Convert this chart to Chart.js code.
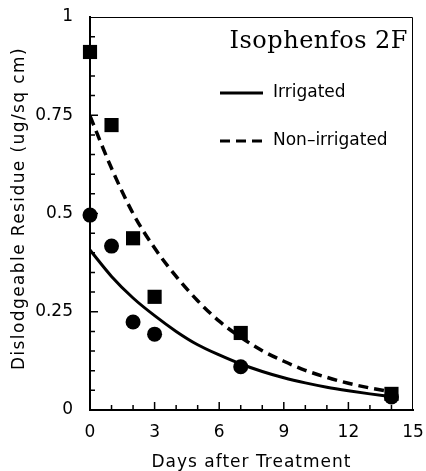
<!DOCTYPE html>
<html>
<head>
<meta charset="utf-8">
<title>Isophenfos 2F</title>
<script src="https://cdn.jsdelivr.net/npm/chart.js@4/dist/chart.umd.min.js"></script>
<style>
  html, body { margin: 0; padding: 0; background: #fff; }
  canvas { display: block; }
</style>
</head>
<body>
<canvas id="residue" width="426" height="471"></canvas>
<script>
// measured residues
const days = [0, 1, 2, 3, 7, 14];
const irrigated = [0.496, 0.417, 0.224, 0.193, 0.11, 0.033];
const nonIrrigated = [0.911, 0.725, 0.437, 0.288, 0.196, 0.041];

// fitted decay curves
const fitDays = [0, 1, 2, 3, 4, 5, 6, 7, 8, 9, 10, 11, 12, 13, 14];
const irrigatedFit = [0.407, 0.340, 0.285, 0.240, 0.200, 0.166, 0.140, 0.117, 0.098, 0.082, 0.069, 0.058, 0.049, 0.041, 0.034];
const nonIrrigatedFit = [0.748, 0.615, 0.500, 0.412, 0.340, 0.278, 0.226, 0.185, 0.151, 0.124, 0.101, 0.083, 0.068, 0.056, 0.046];

const xTicks = [0, 3, 6, 9, 12, 15];
const yTicks = [0, 0.25, 0.5, 0.75, 1];

const chartTitle = 'Isophenfos 2F';
const seriesNames = ['Irrigated', 'Non\u2013irrigated'];
const xTitle = 'Days after Treatment';
const yTitle = 'Dislodgeable Residue (ug/sq cm)';

const FONT = '"DejaVu Sans", sans-serif';

function pairs(xs, ys) {
  return xs.map((x, i) => ({ x: x, y: ys[i] }));
}

// inward ticks, frame, axis titles, title and legend
const decorations = {
  id: 'decorations',
  afterDraw(chart) {
    const { ctx, chartArea: a, scales: { x, y } } = chart;
    ctx.save();
    ctx.strokeStyle = '#000';
    ctx.lineWidth = 1.5;
    ctx.beginPath();
    for (let d = 1; d < 15; d++) {
      const px = x.getPixelForValue(d);
      const len = d % 3 === 0 ? 8 : 5;
      ctx.moveTo(px, a.bottom);
      ctx.lineTo(px, a.bottom - len);
    }
    for (let k = 1; k < 20; k++) {
      const py = y.getPixelForValue(k * 0.05);
      const len = k % 5 === 0 ? 8 : 5;
      ctx.moveTo(a.left, py);
      ctx.lineTo(a.left + len, py);
    }
    ctx.stroke();

    ctx.lineWidth = 1;
    ctx.beginPath();
    ctx.moveTo(a.left, a.top + 0.5);
    ctx.lineTo(a.right - 0.5, a.top + 0.5);
    ctx.lineTo(a.right - 0.5, a.bottom);
    ctx.stroke();

    ctx.fillStyle = '#000';

    // axis titles
    ctx.font = '17px ' + FONT;
    ctx.textAlign = 'center';
    ctx.textBaseline = 'middle';
    ctx.letterSpacing = '1px';
    ctx.fillText(xTitle, (a.left + a.right) / 2, 463);
    ctx.save();
    ctx.translate(20, (a.top + a.bottom) / 2 - 5);
    ctx.rotate(-Math.PI / 2);
    ctx.letterSpacing = '1.4px';
    ctx.fillText(yTitle, 0, 0);
    ctx.restore();

    ctx.font = '24px "DejaVu Serif", serif';
    ctx.letterSpacing = '0.5px';
    ctx.textAlign = 'right';
    ctx.textBaseline = 'alphabetic';
    ctx.fillText(chartTitle, a.right - 5, a.top + 31);
    ctx.letterSpacing = '0px';

    const lx0 = a.right - 193, lx1 = a.right - 150;
    const rows = [a.top + 76, a.top + 124];
    ctx.lineWidth = 3;
    ctx.beginPath();
    ctx.moveTo(lx0, rows[0]);
    ctx.lineTo(lx1, rows[0]);
    ctx.stroke();
    ctx.setLineDash([10, 6]);
    ctx.beginPath();
    ctx.moveTo(lx0, rows[1]);
    ctx.lineTo(lx1, rows[1]);
    ctx.stroke();
    ctx.setLineDash([]);

    ctx.font = '17px ' + FONT;
    ctx.textAlign = 'left';
    ctx.textBaseline = 'middle';
    seriesNames.forEach((name, i) => ctx.fillText(name, lx1 + 10, rows[i]));
    ctx.restore();
  }
};

new Chart(document.getElementById('residue'), {
  type: 'scatter',
  data: {
    datasets: [
      {
        label: seriesNames[0] + ' fit',
        data: pairs(fitDays, irrigatedFit),
        showLine: true,
        cubicInterpolationMode: 'monotone',
        borderColor: '#000',
        borderWidth: 3,
        pointRadius: 0
      },
      {
        label: seriesNames[1] + ' fit',
        data: pairs(fitDays, nonIrrigatedFit),
        showLine: true,
        cubicInterpolationMode: 'monotone',
        borderColor: '#000',
        borderWidth: 3.5,
        borderDash: [10, 6],
        pointRadius: 0
      },
      {
        label: seriesNames[0],
        data: pairs(days, irrigated),
        pointStyle: 'circle',
        pointRadius: 7.5,
        backgroundColor: '#000',
        borderWidth: 0,
        clip: false
      },
      {
        label: seriesNames[1],
        data: pairs(days, nonIrrigated),
        pointStyle: 'rect',
        pointRadius: 10,
        backgroundColor: '#000',
        borderWidth: 0,
        clip: false
      }
    ]
  },
  options: {
    responsive: false,
    animation: false,
    devicePixelRatio: 1,
    layout: { padding: { top: 17, right: 13, left: 0, bottom: 0 } },
    plugins: {
      legend: { display: false },
      tooltip: { enabled: false }
    },
    scales: {
      x: {
        type: 'linear',
        min: 0,
        max: 15,
        afterFit: s => { s.height = 61; s.paddingLeft = 0; s.paddingRight = 0; },
        afterBuildTicks: s => { s.ticks = xTicks.map(v => ({ value: v })); },
        grid: { display: false },
        border: { color: '#000', width: 2 },
        ticks: { color: '#000', font: { family: FONT, size: 17 }, padding: 4, maxRotation: 0 }
      },
      y: {
        type: 'linear',
        min: 0,
        max: 1,
        afterFit: s => { s.width = 90; s.paddingTop = 0; s.paddingBottom = 0; },
        afterBuildTicks: s => { s.ticks = yTicks.map(v => ({ value: v })); },
        grid: { display: false },
        border: { color: '#000', width: 2 },
        ticks: {
          color: '#000',
          font: { family: FONT, size: 17 },
          padding: 9,
          callback: v => String(v)
        }
      }
    }
  },
  plugins: [decorations]
});
</script>
</body>
</html>
